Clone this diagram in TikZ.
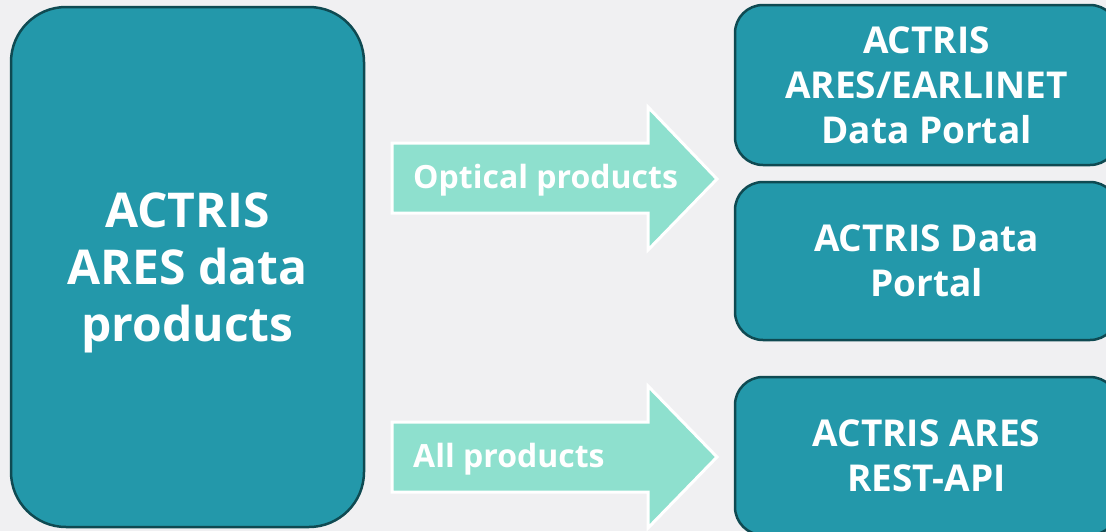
\documentclass[tikz,border=0pt]{standalone}
\usepackage{fontspec}
\setmainfont{Open Sans}
\definecolor{bgc}{HTML}{F0F0F2}
\definecolor{teal}{HTML}{2398AA}
\definecolor{tealdark}{HTML}{0F4A52}
\definecolor{mint}{HTML}{8EE0CE}
\tikzset{
  tealbox/.style={draw=tealdark, line width=2.5pt, fill=teal, rounded corners=#1, text=white, align=center, inner sep=0pt},
  bigtext/.style={font=\bfseries\fontsize{48}{57}\selectfont, text=white, align=center, inner sep=0pt},
  midtext/.style={font=\bfseries\fontsize{37}{45}\selectfont},
  arrowshape/.style={fill=mint, draw=white, line width=3pt, line join=miter},
  arrowtext/.style={font=\bfseries\fontsize{32}{38}\selectfont, text=white, anchor=base west, inner sep=0pt}
}
\begin{document}
\begin{tikzpicture}[x=1pt,y=-1pt]
\useasboundingbox (0,0) rectangle (1106,531);
\clip (0,0) rectangle (1106,531);
\fill[bgc] (0,0) rectangle (1106,531);

\node[tealbox=55pt, minimum width=353pt, minimum height=520pt] (src) at (187.5,267) {};
\node[bigtext] (srctext) at ([yshift=-6pt]src.center) {ACTRIS\\ARES data\\products};

\node[tealbox=28pt, midtext, minimum width=383pt, minimum height=160pt] (earl) at (926.5,85) {ACTRIS\\ARES/EARLINET\\Data Portal};
\node[tealbox=28pt, midtext, minimum width=383pt, minimum height=158pt] (dp) at (926.5,261) {ACTRIS Data\\Portal};
\node[tealbox=28pt, midtext, minimum width=383pt, minimum height=158pt] (api) at (926.5,456) {ACTRIS ARES\\REST-API};

\coordinate (a1tip) at (717,179);
\coordinate (a2tip) at (717,457);
\path[arrowshape] (392,143) -- (648,143) -- (648,107) -- (a1tip) -- (648,250) -- (648,213) -- (392,213) -- cycle;
\path[arrowshape] (392,422) -- (648,422) -- (648,386) -- (a2tip) -- (648,528) -- (648,492) -- (392,492) -- cycle;

\node[arrowtext] (opt) at (413,188) {Optical products};
\node[arrowtext] (all) at (413,467) {All products};
\end{tikzpicture}
\end{document}
